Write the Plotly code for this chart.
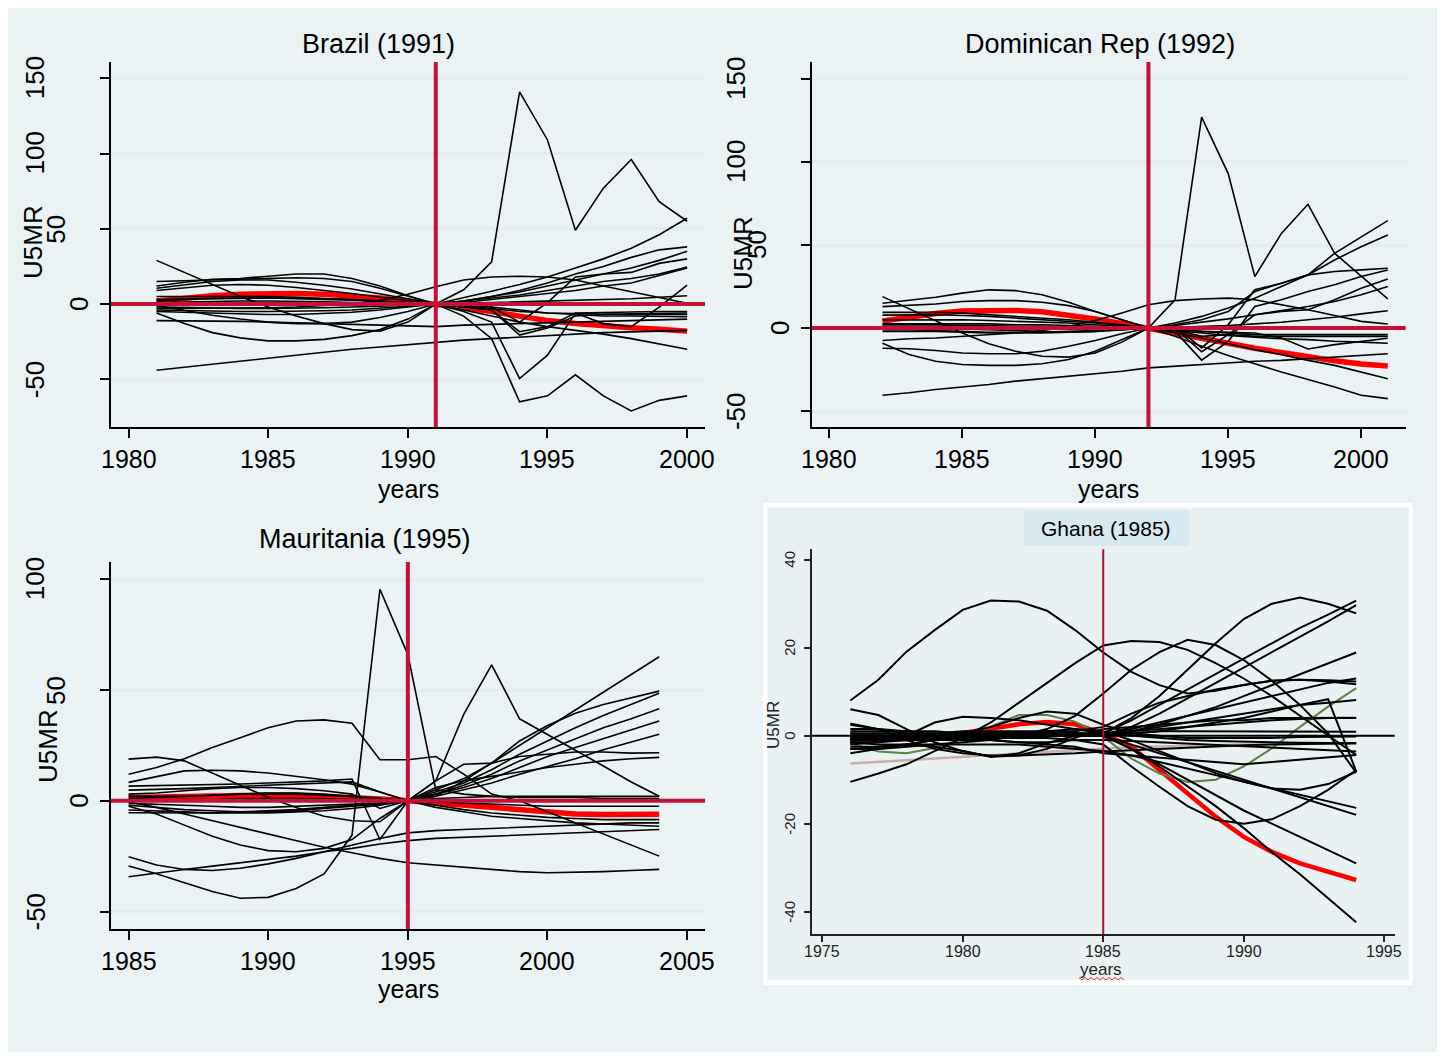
import plotly.graph_objects as go

# ---------------------------------------------------------------- data --
# Brazil, gaps in U5MR by year (treated unit and placebo units)
BR_YEARS = [1981, 1982, 1983, 1984, 1985, 1986, 1987, 1988, 1989, 1990,
            1991, 1992, 1993, 1994, 1995, 1996, 1997, 1998, 1999, 2000]
BR_TREATED = [2, 4, 5.5, 6.5, 7, 7, 6.5, 5.5, 4, 2,
              0, -2.5, -5, -8.4, -11, -13, -14.6, -15.7, -16.8, -18]
BR_PLACEBOS = [
    [29, 21, 13, 5, -2, -8, -13, -17, -18, -12, 0, 9.5, 28, 141, 109, 49, 77, 96, 68, 55],
    [-6, -13, -19, -22.5, -24.5, -24.5, -23.5, -21, -17, -10, 0, -8, -23, -65, -61, -47, -61, -71, -64, -61],
    [12, 14.5, 16.5, 17, 18.5, 20, 20, 17, 12, 5.5, 0, 4, 8.5, 13, 18, 24, 30, 37, 46, 57],
    [15, 15.5, 16, 16.5, 17, 17.5, 17, 15, 10.5, 5, 0, 2, 5, 9, 14, 20, 25, 31, 36, 38],
    [10.5, 12.5, 15, 16, 16, 14.5, 12.5, 10, 7, 3.5, 0, 2, 5, 8, 12, 16, 20, 24, 29, 35],
    [9, 11, 12.5, 13, 12.5, 11, 9, 7, 4.5, 2, 0, 1, -2, -12, 1, 18, 20, 21, 27, 30],
    [3, 3.5, 4, 4, 4, 3.5, 3, 2.5, 1.5, 1, 0, 2, 4, 6, 9, 12, 15, 17, 20, 24.5],
    [1, 1.5, 2, 2, 2, 2, 1.5, 1, 0.5, 0.5, 0, 1, 3, 5, 7, 9, 12, 14, 19, 24],
    [-1, -1, -1, -1, -1, -1, -1, -0.5, -0.5, 0, 0, -2, -4, -18.4, -15, -6, -13, -15, -2, 12.6],
    [-2, -2.5, -3, -3, -3, -3, -2.5, -2, -1.5, -0.5, 0, 0.5, 1, 1.5, 2, 2.5, 3, 3.5, 4.5, 5.5],
    [-3, -3, -3, -3, -2.5, -2, -1, 0, 2.5, 6.5, 11.5, 16, 18, 18.5, 18, 16, 12, 8, 4, 0.5],
    [-1, -4, -7.5, -10, -12, -13, -13, -12, -9, -5, 0, -5, -12, -49.5, -34, -6, -5.5, -5.5, -5, -5],
    [5, 5, 5.5, 5.5, 5, 4.5, 4, 3, 2, 1, 0, -2, -4, -20.6, -16, -8, -7, -6.5, -6.5, -6],
    [-4, -4.5, -4.5, -5, -5, -5, -4.5, -4, -3, -1.5, 0, -1, -3, -5, -6, -6.5, -7, -7, -7, -7],
    [2, 3, 3.5, 4, 4, 4, 3.5, 3, 2, 1, 0, -1, -2, -4, -6, -7, -8, -8, -8.5, -8.5],
    [-11, -11, -11, -11.5, -12, -12.5, -13, -13.5, -14, -14.5, -15, -14, -13.5, -13, -12.5, -12, -11.5, -11, -10.5, -10],
    [-44, -42, -40, -38, -36, -34, -32, -30, -28.5, -27, -25.5, -24, -23, -22, -21, -20, -19, -18.5, -18, -17.5],
    [-5, -5.5, -6, -6.5, -7, -7, -6.5, -5.5, -4, -2, 0, -4, -8, -12, -15, -17.5, -20, -23, -26.5, -30],
]
BR_XTICKS = [1980, 1985, 1990, 1995, 2000]
BR_YTICKS = [-50, 0, 50, 100, 150]

# Dominican Republic
DR_YEARS = [1982, 1983, 1984, 1985, 1986, 1987, 1988, 1989, 1990, 1991,
            1992, 1993, 1994, 1995, 1996, 1997, 1998, 1999, 2000, 2001]
DR_TREATED = [4.2, 6.8, 8.8, 10.2, 10.8, 10.6, 9.8, 7.8, 5.4, 2.8,
              0, -3.2, -6.2, -9.2, -12.2, -14.9, -17.3, -19.7, -21.7, -22.9]
DR_PLACEBOS = [
    [1, 1, 1, 1, 0.5, 0.5, 0.5, 0, 0, 0, 0, 17, 127, 93, 31, 57, 74.5, 45, 31, 17.5],
    [14.9, 16.5, 18.5, 21, 23, 22.5, 20, 15.5, 10, 5, 0, 3, 7, 12, 18, 25, 32, 45, 55, 64.7],
    [12.9, 13.5, 14.5, 16, 16.5, 16.5, 15.5, 13.5, 10, 5, 0, 2, 5, 10, 22, 27, 32, 41, 49, 56],
    [18.9, 11.5, 4, -3, -9.5, -14, -17, -17.5, -15, -8.5, 0, 1, -12, 2, 23, 27, 32, 34, 35, 36],
    [9.4, 9.5, 9.5, 9, 8, 7, 6, 5, 3.5, 2, 0, -2, -19.3, -8, 13, 17, 22, 26, 31, 35],
    [7.8, 8, 8, 7.5, 7, 6, 5, 4, 3, 1.5, 0, 0, -14.3, -4, 8, 10, 11, 17, 24, 29.5],
    [4.8, 5, 5, 5, 4.5, 4, 3.5, 3, 2, 1, 0, 1.5, 3.5, 5.5, 8, 10.5, 13, 16, 20, 25],
    [2.5, 2.5, 2.5, 2.5, 2.5, 2, 2, 1.5, 1, 0.5, 0, 0.5, 1, 1.5, 2.5, 3.5, 5, 6.5, 8.5, 10.4],
    [-1, -1, -1.5, -2, -2.5, -2.5, -2.5, -2, -1.5, -1, 0, -1, -2, -2.5, -3, -6, -12.6, -10, -8, -6.2],
    [0, 0, -0.5, -0.5, -1, -1.5, -2, -2.5, -2, -1, 0, -1.5, -3, -4.5, -5.5, -6.5, -7, -8, -8.5, -9.2],
    [-9.2, -16, -20, -22, -22.5, -22.5, -21.5, -19, -14, -7, 0, -3, -6, -9.5, -13, -16, -19.5, -22.5, -26.5, -30.5],
    [-12.2, -12.5, -13.5, -15, -15.5, -15.5, -14, -11, -7.5, -3.5, 0, -5, -11, -16.5, -21.5, -26.5, -31, -35.5, -40.5, -42.5],
    [-7.5, -6.5, -6, -5, -4, -3, -1.5, 1, 4.5, 9, 14, 16.5, 17.5, 18, 17, 14, 11, 7.5, 4, 2.4],
    [-40.5, -39, -37, -35.5, -34, -32, -30.5, -29, -27.5, -26, -24, -23, -22, -21, -20, -19.5, -18.5, -17.5, -16.5, -15.5],
    [2, 2, 2, 1.5, 1.5, 1, 1, 0.5, 0.5, 0, 0, -1, -2, -3, -4, -4, -4, -4, -4, -4],
    [-2, -2, -2, -2.5, -3, -3, -3, -2.5, -2, -1, 0, -1, -5, -4, -5, -5, -5, -5, -5, -5],
]
DR_XTICKS = [1980, 1985, 1990, 1995, 2000]
DR_YTICKS = [-50, 0, 50, 100, 150]

# Mauritania
MR_YEARS = [1985, 1986, 1987, 1988, 1989, 1990, 1991, 1992, 1993, 1994,
            1995, 1996, 1997, 1998, 1999, 2000, 2001, 2002, 2003, 2004]
MR_TREATED = [1.5, 1.8, 2, 2.3, 2.5, 2.6, 2.5, 2.1, 1.5, 0.8,
              0, -1, -2.3, -3.5, -4.6, -5.4, -6, -6.2, -6.2, -6.1]
MR_PLACEBOS = [
    [-29.5, -33, -37, -41, -44, -43.6, -39.6, -33, -15.5, 95.5, 66, 5, 3, 2, 1.5, 1.5, 1.5, 1, 1, 1],
    [6.6, 6.8, 7, 7.3, 7.6, 8, 8.4, 9, 9.8, -17.5, 0, 9, 39, 61.4, 37, 30, 23, 15.7, 8.5, 2],
    [12, 15, 19, 24, 28.5, 33, 36, 36.5, 35, 18.5, 18.5, 20, 12, 3, 0, -5, -10, -15, -20, -25],
    [18.8, 19.7, 18, 12.5, 7, 1.5, -3, -7, -9, -9.5, 0, 3, 6, 10, 15, 20, 24, 28, 32, 36],
    [8.3, 11, 13.5, 13.8, 13.5, 12.5, 11, 9.5, 7.5, 4, 0, 2, 9, 17, 25, 33, 41, 49, 57, 65],
    [4.8, 5, 5.5, 6, 6.5, 7, 7.5, 8, 8.5, 4, 0, 5, 10, 17, 27, 34, 39.5, 43.5, 46.5, 49.5],
    [3, 3.5, 4.5, 5.5, 6, 6, 5.5, 4.5, 3, -3.5, 0, 4, 8, 14, 21, 27, 33, 38.5, 43.5, 48.5],
    [-1.2, -1.5, -2, -2.5, -3, -3, -2.5, -2, -1.5, -1, 0, 3, 7, 12, 18, 23, 28, 33, 37, 41.5],
    [-2.5, -6, -11, -16, -20, -22.5, -23, -21.5, -17.5, -8, 0, 2, 5, 8, 12, 15.5, 19, 23, 26.5, 30],
    [-0.5, -3, -6, -9, -12, -15, -18, -21, -23.5, -26, -28, -29, -30, -31, -32, -32.5, -32.3, -32, -31.5, -31],
    [-25.3, -29, -31, -31.5, -30.5, -28.5, -26, -23, -20, -17, -14.5, -13.5, -13, -12.5, -12, -11.5, -11, -10.5, -10, -10],
    [-34.3, -32.5, -31, -29.5, -28, -26.5, -25, -23, -21.5, -19.5, -18, -17, -16.5, -16, -15.5, -15, -14.5, -14, -13.5, -13],
    [-4.2, -4.5, -5, -5.5, -5.5, -5.5, -5, -4.5, -3.5, -2, 0, 9, 16.5, 17, 20, 21, 22, 22, 21.5, 21.7],
    [-5.4, -5.5, -5.5, -5.5, -5, -4.5, -4, -3, -2, -1, 0, 6, 9, 11, 13, 15, 16.5, 18, 19, 19.6],
    [1, 1.5, 2, 2.5, 3, 3.5, 3.5, 3, 2, 1, 0, -0.5, -1, -1.5, -2, -2.5, -2.5, -2.5, -2.5, -2.5],
    [2, 2, 2, 2.5, 3, 3, 3, 2.5, 2, 1, 0, -2, -4, -5.5, -6.5, -7.5, -8, -8.5, -8.5, -8.5],
    [-2, -3, -4, -4.5, -5, -5, -4.5, -3.5, -2.5, -1.5, 0, -3, -5, -7, -8, -9, -10, -10.5, -11, -11.5],
    [0, 0, 0.5, 0.5, 1, 1, 1, 1, 0.5, 0.5, 0, 1, 1.5, 2, 2, 2, 2, 2, 2, 2],
]
MR_XTICKS = [1985, 1990, 1995, 2000, 2005]
MR_YTICKS = [-50, 0, 50, 100]

# Ghana
GH_YEARS = [1976, 1977, 1978, 1979, 1980, 1981, 1982, 1983, 1984, 1985,
            1986, 1987, 1988, 1989, 1990, 1991, 1992, 1993, 1994]
GH_TREATED = [-0.8, -1, -0.8, -0.3, 0.6, 1.6, 2.6, 3.1, 2.6, 0.5,
              -2.5, -7.8, -13, -18.4, -23, -26.4, -29, -31, -32.8]
GH_GREEN = [-1.7, -3.6, -4, -2.8, -0.6, 2, 4.7, 4.7, 3.2, -0.2,
            -5.2, -8.6, -10.5, -10, -7, -2.9, 2, 6.6, 10.8]
GH_PINK = [-6.3, -6, -5.6, -5.2, -4.8, -4.4, -4, -3.6, -3.2, -2.9,
           -2.6, -2.4, -2.2, -2.1, -2, -1.9, -1.8, -1.8, -1.7]
GH_PLACEBOS = [
    [8, 12.7, 19.1, 24, 28.6, 30.7, 30.5, 28.4, 24, 18.9, 14.5, 11.5, 9.6, 10.2, 11.5, 12.5, 12.7, 12.3, 11.7],
    [-10.5, -8.6, -6.5, -3.5, -0.5, 3, 7.5, 12, 16.5, 20.5, 21.5, 21.3, 19.5, 16.5, 13, 9, 4.5, 0, -4.4],
    [-3, -3, -2.5, -2, -1.5, -1, 0, 1.5, 4.5, 9.6, 15, 19, 21.8, 20.6, 17.2, 12.5, 7, 0.5, -8.4],
    [0.5, 0.5, 0.5, 0.5, 1, 1, 1, 1, 0.5, 0.5, 4, 9, 15, 21, 26.5, 30, 31.4, 30, 27.8],
    [-1, -1, -1, -0.5, -0.5, 0, 0, 0, 0, 0.5, 3.5, 7, 10.5, 14, 17.5, 21, 24.5, 27.5, 30.7],
    [-1.5, -1.5, -1, -1, -0.5, -0.5, 0, 0, 0, 0, 2, 5, 8.5, 12, 15.5, 19, 22.5, 26, 29.7],
    [1, 1, 1, 1, 0.5, 0.5, 0.5, 0.5, 0, 0, 1, 2.5, 4.5, 6.5, 9, 11.5, 14, 16.5, 18.9],
    [0, 0, 0, 0, 0, 0.5, 0.5, 0.5, 0.5, 0.5, 1.5, 3, 4.5, 6, 7.5, 9, 10.5, 12, 13],
    [-0.5, -0.5, 0, 0, 0, 0.5, 0.5, 1, 1, 2, 5, 7.5, 9, 10.5, 11.5, 12.5, 12.7, 12.6, 12.3],
    [0, 0, -0.5, -0.5, -0.5, 0, 0, 0, 0, 0, 1, 2, 3, 4, 5, 6, 7, 7.5, 8.1],
    [-1, -1, -1, -1, -1, -0.5, -0.5, 0, 0, 0, 0.5, 1, 2, 3, 4, 5.5, 7, 8.3, -8.1],
    [6, 4.7, 1.5, -1.5, -3.5, -4.8, -4.5, -3, -0.5, 1.5, 2, 2.5, 3, 3.5, 3.5, 4, 4, 4, 4.1],
    [-2, -1.5, 0, 3, 4.3, 4, 3.5, 2.5, 1.5, 0.5, 0.5, 1, 1, 1, 1, 1, 1, 1, 0.9],
    [-2.5, -2.5, -2, -1, 0.5, 2, 4, 5.5, 5, 2.5, 0.5, 0, -0.5, -0.5, -0.5, -0.5, -0.3, -0.2, -0.2],
    [-3, -2.5, -2, -2.5, -3.5, -4.8, -4, -1.7, 0, 0.5, 0, -0.5, -1, -1.2, -1.4, -1.5, -1.6, -1.7, -1.7],
    [-1.5, -2, -2, -2, -2, -2, -2, -2.5, -3, -3.5, -4.5, -6, -7.5, -9, -10.5, -12, -13.5, -15, -16.4],
    [0, 0, 0, 0, 0.5, 0.5, 0.5, 0.5, 0.5, 0, -2, -4, -6, -8, -10, -12, -14, -16, -18],
    [-0.5, -0.5, -0.5, -0.5, 0, 0, 0, 0, 0, 0, -3, -6.5, -10, -13.5, -17, -20, -23, -26, -29],
    [0.5, 0.5, 0.5, 0.5, 0.5, 0.5, 0.5, 0.5, 0.5, 0, -3, -7, -11.5, -16, -21, -26.5, -31.5, -37, -42.4],
    [2.5, 1.5, 0.5, 0, -0.5, -1, -1.5, -1.5, -1, -2, -7, -11.6, -16, -19.1, -20, -19, -16, -12.3, -7.8],
    [1.5, 1.5, 1, 0.5, 0, 0, 0.5, 1, 1.5, 1, -1, -3.5, -6, -8.5, -10.5, -12, -12.3, -11, -8.2],
    [0, 0, 0, 0, 0, -0.5, -0.5, -0.5, -1, -1, -1.2, -1.5, -1.8, -2, -2.3, -2.6, -3, -3.3, -3.6],
    [-1, -1, -1, -1, -1, -1, -1.5, -2, -2.5, -4, -4.5, -5, -5.5, -6, -6.5, -6, -5.5, -5, -4.4],
    [2.8, 1.5, -1, -3, -4, -4.5, -4.5, -4.3, -4, -3.6, -3.3, -3, -2.7, -2.4, -2.2, -2, -1.9, -1.8, -1.7],
    [-4, -3, -2, -1, -0.5, 0, 0, 0, 0.5, 0.5, 1, 1.5, 2, 2.5, 3, 3.5, 3.8, 4, 4],
]
GH_XTICKS = [1975, 1980, 1985, 1990, 1995]
GH_YTICKS = [-40, -20, 0, 20, 40]

# ------------------------------------------------------------- styling --
W, H = 1443, 1056
FONT = "Liberation Sans, Arial, Helvetica, sans-serif"
PAGE_BG = "#eaf2f3"
GRID = "#e3ecef"
CRIMSON = "#c4113a"
RED = "#ff0000"


def fx(x):
    return x / W


def fy(y):
    return 1 - y / H


PANELS = [
    dict(title="Brazil (1991)", event=1991, years=BR_YEARS, treated=BR_TREATED,
         placebos=BR_PLACEBOS, xticks=BR_XTICKS, yticks=BR_YTICKS,
         box=(111, 62, 705, 427), xrange=(1979.37, 2000.64), yrange=(-81.7, 160.8),
         title_at=(379, 44), ytitle_at=(33, 242), xtitle_at=(408, 489)),
    dict(title="Dominican Rep (1992)", event=1992, years=DR_YEARS, treated=DR_TREATED,
         placebos=DR_PLACEBOS, xticks=DR_XTICKS, yticks=DR_YTICKS,
         box=(812, 62, 1405.6, 427), xrange=(1979.35, 2001.67), yrange=(-59.6, 160.2),
         title_at=(1100, 44), ytitle_at=(743, 253), xtitle_at=(1108, 489)),
    dict(title="Mauritania (1995)", event=1995, years=MR_YEARS, treated=MR_TREATED,
         placebos=MR_PLACEBOS, xticks=MR_XTICKS, yticks=MR_YTICKS,
         box=(111, 562, 705, 929), xrange=(1984.37, 2005.64), yrange=(-57.9, 107.8),
         title_at=(365, 539), ytitle_at=(48, 746), xtitle_at=(408, 989)),
]

fig = go.Figure()
shapes = []
annotations = []
layout = {}

# page background and the framed Ghana graph
shapes.append(dict(type="rect", xref="paper", yref="paper", x0=fx(8), x1=fx(1437),
                   y0=fy(1052), y1=fy(8), fillcolor=PAGE_BG, line=dict(width=0), layer="below"))
shapes.append(dict(type="rect", xref="paper", yref="paper", x0=fx(763), x1=fx(1413),
                   y0=fy(985), y1=fy(503), fillcolor="white", line=dict(width=0), layer="below"))
shapes.append(dict(type="rect", xref="paper", yref="paper", x0=fx(767.5), x1=fx(1409),
                   y0=fy(980), y1=fy(507.5), fillcolor="#e9f1f3", line=dict(width=0), layer="below"))
shapes.append(dict(type="rect", xref="paper", yref="paper", x0=fx(1024), x1=fx(1189),
                   y0=fy(546), y1=fy(510), fillcolor="#d8e9ef", line=dict(width=0), layer="below"))


def axis_common(ticklen, tickvals, linecolor="black"):
    return dict(showline=True, linecolor=linecolor, linewidth=1.6, ticks="outside",
                ticklen=ticklen, tickwidth=1.5, tickcolor=linecolor, tickvals=tickvals,
                showticklabels=False, zeroline=False, fixedrange=True)


for i, p in enumerate(PANELS, start=1):
    sfx = "" if i == 1 else str(i)
    xa, ya = "x" + sfx, "y" + sfx
    x0, y0, x1, y1 = p["box"]
    layout["xaxis" + sfx] = dict(domain=[fx(x0), fx(x1)], range=list(p["xrange"]), anchor=ya,
                                 showgrid=False, **axis_common(9, p["xticks"]))
    layout["yaxis" + sfx] = dict(domain=[fy(y1), fy(y0)], range=list(p["yrange"]), anchor=xa,
                                 showgrid=True, gridcolor=GRID, gridwidth=2.5,
                                 **axis_common(9, p["yticks"]))

    fig.add_trace(go.Scatter(x=p["years"], y=p["treated"], mode="lines",
                             line=dict(color=RED, width=5.5), xaxis=xa, yaxis=ya,
                             showlegend=False, hoverinfo="skip"))
    for series in p["placebos"]:
        fig.add_trace(go.Scatter(x=p["years"], y=series, mode="lines",
                                 line=dict(color="black", width=1.6), xaxis=xa, yaxis=ya,
                                 showlegend=False, hoverinfo="skip"))

    # reference lines: zero gap and treatment year
    shapes.append(dict(type="line", xref=xa + " domain", yref=ya, x0=0, x1=1, y0=0, y1=0,
                       line=dict(color=CRIMSON, width=4), layer="above"))
    shapes.append(dict(type="line", xref=xa, yref=ya + " domain", x0=p["event"], x1=p["event"],
                       y0=0, y1=1, line=dict(color=CRIMSON, width=4), layer="above"))

    # rotated y tick labels, offset by label length
    offsets = {1: 32, 2: 55, 3: 76}
    for v in p["yticks"]:
        t = str(v)
        annotations.append(dict(text=t, x=fx(x0 - offsets[len(t)]), xref="paper", y=v, yref=ya,
                                textangle=-90, showarrow=False, xanchor="center",
                                yanchor="middle", font=dict(family=FONT, size=26, color="black")))
    for v in p["xticks"]:
        annotations.append(dict(text=str(v), x=v, xref=xa, y=fy(y1 + 32), yref="paper",
                                showarrow=False, xanchor="center", yanchor="middle",
                                font=dict(family=FONT, size=25, color="black")))
    tx, ty = p["title_at"]
    annotations.append(dict(text=p["title"], x=fx(tx), y=fy(ty), xref="paper", yref="paper",
                            showarrow=False, xanchor="center", yanchor="middle",
                            font=dict(family=FONT, size=27, color="black")))
    ux, uy = p["ytitle_at"]
    annotations.append(dict(text="U5MR", x=fx(ux), y=fy(uy), xref="paper", yref="paper",
                            textangle=-90, showarrow=False, xanchor="center", yanchor="middle",
                            font=dict(family=FONT, size=26, color="black")))
    wx, wy = p["xtitle_at"]
    annotations.append(dict(text="years", x=fx(wx), y=fy(wy), xref="paper", yref="paper",
                            showarrow=False, xanchor="center", yanchor="middle",
                            font=dict(family=FONT, size=25, color="black")))

# ---- Ghana panel (pasted graph with its own styling) ----
gx0, gy0, gx1, gy1 = 811.8, 549.3, 1394.7, 934
layout["xaxis4"] = dict(domain=[fx(gx0), fx(gx1)], range=[1974.63, 1995.37], anchor="y4",
                        showgrid=False, **axis_common(6, GH_XTICKS, "#222222"))
layout["yaxis4"] = dict(domain=[fy(gy1), fy(gy0)], range=[-45.07, 42.36], anchor="x4",
                        showgrid=True, gridcolor="#e6eef1", gridwidth=2,
                        **axis_common(6, GH_YTICKS, "#222222"))

fig.add_trace(go.Scatter(x=GH_YEARS, y=GH_PINK, mode="lines", line=dict(color="#c9aea8", width=2.5),
                         xaxis="x4", yaxis="y4", showlegend=False, hoverinfo="skip"))
fig.add_trace(go.Scatter(x=GH_YEARS, y=GH_TREATED, mode="lines", line=dict(color=RED, width=4.5),
                         xaxis="x4", yaxis="y4", showlegend=False, hoverinfo="skip"))
fig.add_trace(go.Scatter(x=GH_YEARS, y=GH_GREEN, mode="lines", line=dict(color="#5f7f45", width=2),
                         xaxis="x4", yaxis="y4", showlegend=False, hoverinfo="skip"))
for series in GH_PLACEBOS:
    fig.add_trace(go.Scatter(x=GH_YEARS, y=series, mode="lines", line=dict(color="black", width=2),
                             xaxis="x4", yaxis="y4", showlegend=False, hoverinfo="skip"))

shapes.append(dict(type="line", xref="x4 domain", yref="y4", x0=0, x1=1, y0=0, y1=0,
                   line=dict(color="black", width=2), layer="above"))
shapes.append(dict(type="line", xref="x4", yref="y4 domain", x0=1985, x1=1985, y0=0, y1=1,
                   line=dict(color="#a8142f", width=2), layer="above"))

for v in GH_YTICKS:
    annotations.append(dict(text=str(v), x=fx(790), xref="paper", y=v, yref="y4", textangle=-90,
                            showarrow=False, xanchor="center", yanchor="middle",
                            font=dict(family=FONT, size=15, color="#222222")))
for v in GH_XTICKS:
    annotations.append(dict(text=str(v), x=v, xref="x4", y=fy(951), yref="paper",
                            showarrow=False, xanchor="center", yanchor="middle",
                            font=dict(family=FONT, size=16, color="#222222")))
annotations.append(dict(text="Ghana (1985)", x=fx(1106), y=fy(528), xref="paper", yref="paper",
                        showarrow=False, xanchor="center", yanchor="middle",
                        font=dict(family=FONT, size=21, color="black")))
annotations.append(dict(text="U5MR", x=fx(773), y=fy(725), xref="paper", yref="paper",
                        textangle=-90, showarrow=False, xanchor="center", yanchor="middle",
                        font=dict(family=FONT, size=17, color="#222222")))
annotations.append(dict(text="years", x=fx(1101), y=fy(969), xref="paper", yref="paper",
                        showarrow=False, xanchor="center", yanchor="middle",
                        font=dict(family=FONT, size=17, color="#222222")))

# wavy spell-check underline beneath "years"
pts = []
for k in range(16):
    xx = 1079 + k * 3
    yy = 977.5 if k % 2 == 0 else 980
    pts.append(f"{fx(xx):.5f},{fy(yy):.5f}")
shapes.append(dict(type="path", xref="paper", yref="paper", path="M " + " L ".join(pts),
                   line=dict(color="#e03030", width=1), layer="above"))

fig.update_layout(
    width=W, height=H, autosize=False,
    margin=dict(l=0, r=0, t=0, b=0),
    paper_bgcolor="white", plot_bgcolor="white",
    shapes=shapes, annotations=annotations,
    font=dict(family=FONT),
    **layout,
)

fig.write_html("out.html")
